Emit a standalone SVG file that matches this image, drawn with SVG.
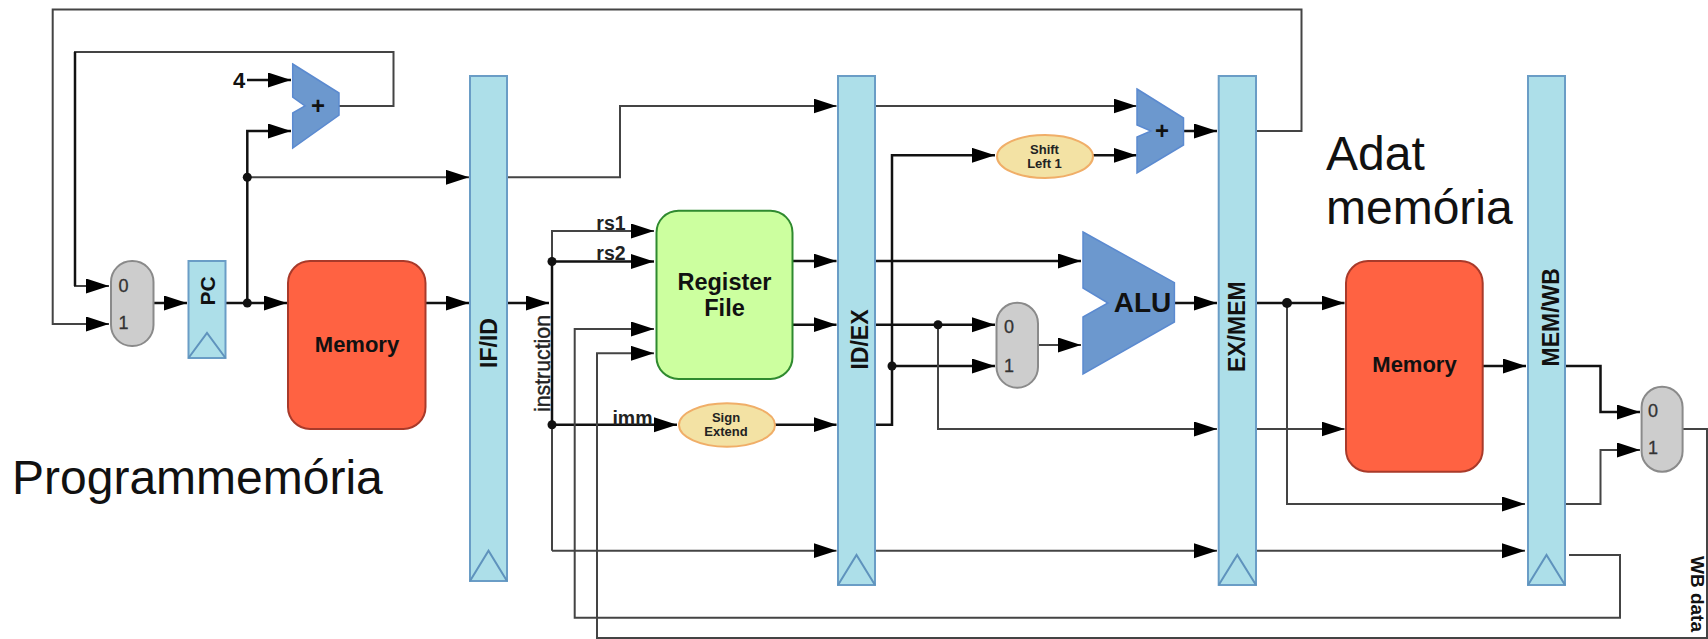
<svg xmlns="http://www.w3.org/2000/svg" width="1708" height="639" viewBox="0 0 1708 639">
<style>
text{font-family:"Liberation Sans",Arial,sans-serif;fill:#111}
.b{font-weight:bold}
.c{text-anchor:middle}
.bar{fill:#addfe9;stroke:#6a9dc6;stroke-width:2}
.clk{fill:none;stroke:#5f93bd;stroke-width:2}
.mux{fill:#cdcdcd;stroke:#8a8a8a;stroke-width:2}
.add{fill:#6c98ce;stroke:#5b8ad0;stroke-width:1.5}
.mem{fill:#ff6242;stroke:#a93a2a;stroke-width:2}
.ell{fill:#f3e2a4;stroke:#f0ae68;stroke-width:2}
.reg{font-size:23px;font-weight:bold}
.big{font-size:48px}
.sm{font-size:13px;font-weight:bold;fill:#222}
.sig{font-size:19.500px;font-weight:bold;fill:#222}
.d{font-size:18px;fill:#333;stroke:#333;stroke-width:.3}
#connectors path{fill:none;stroke:#111;stroke-width:2.500}
#connectors path.t{stroke:#444;stroke-width:2}
#connectors path.a{marker-end:url(#arrow)}
#connectors circle{fill:#111}
</style>
<defs>
<marker id="arrow" markerUnits="userSpaceOnUse" markerWidth="24" markerHeight="16" refX="23" refY="7.500" orient="auto"><path d="M0,0L23,7.500L0,15z" fill="#000"/></marker>
</defs>
<rect width="1708" height="639" fill="#fff"/>
<g id="connectors">
<path class="t a" d="M1256,131H1301.500V9.500H52.700V324H109"/>
<path class="t a" d="M339,106H393.500V52H75V286H109"/>
<path d="M75,52V286"/>
<path class="a" d="M247,80H291"/>
<path class="a" d="M247.300,303V131H291"/>
<path class="t a" d="M247.300,177.300H469"/>
<path class="a" d="M153.500,303H187"/>
<path class="a" d="M225.500,303H287"/>
<path class="a" d="M425.500,303H469"/>
<path class="a" d="M507,303H549"/>
<path class="t a" d="M507,177.300H620V106H836.500"/>
<path class="t a" d="M552,261.500V231H654"/>
<path class="a" d="M552,261.500H654"/>
<path d="M552,261.500V424.700"/>
<path class="t" d="M552,424.700V550.700"/>
<path class="a" d="M552,424.700H677"/>
<path class="t a" d="M552,550.700H836.500"/>
<path class="a" d="M792.500,261H836.500"/>
<path class="a" d="M792.500,324.700H836.500"/>
<path class="a" d="M775,424.700H836.500"/>
<path class="t a" d="M875,106H1136.500"/>
<path class="a" d="M875,261H1081"/>
<path class="a" d="M875,324.700H995"/>
<path class="a" d="M875,424.700H892V155.300H995"/>
<path class="a" d="M892,366H995"/>
<path class="t a" d="M938,324.700V429H1217"/>
<path class="t a" d="M875,550.700H1217"/>
<path class="a" d="M1093,155.300H1136.500"/>
<path class="t a" d="M1038,345H1081"/>
<path class="a" d="M1183.500,131H1217"/>
<path class="a" d="M1174,303H1217"/>
<path class="a" d="M1256,303H1344.500"/>
<path class="t a" d="M1287,303V504H1525"/>
<path class="t a" d="M1256,429H1344.500"/>
<path class="t a" d="M1256,550.700H1525"/>
<path class="a" d="M1482.700,366H1526"/>
<path class="a" d="M1565,366H1600.500V412H1640"/>
<path class="t a" d="M1565,504H1600.500V450H1640"/>
<path class="t a" d="M1569,555H1620V617.700H574.700V329H654"/>
<path class="t a" d="M1682.700,429H1707V638H597V353.300H654"/>
<circle cx="247.300" cy="177.300" r="4.500"/>
<circle cx="247.300" cy="303" r="4.500"/>
<circle cx="552" cy="261.500" r="4.500"/>
<circle cx="552" cy="424.700" r="4.500"/>
<circle cx="938" cy="324.700" r="4.500"/>
<circle cx="892" cy="366" r="4.500"/>
<circle cx="1287" cy="303" r="5"/>
</g>
<g id="mux-pc"><rect class="mux" x="111" y="261" width="42.500" height="85" rx="21" ry="21"/><text class="d c" x="123.500" y="291.500">0</text><text class="d c" x="123.500" y="329">1</text></g>
<g id="pc"><rect class="bar" x="188.500" y="261" width="37" height="97"/><path class="clk" d="M188.500,358L207,333L225.500,358"/><text class="b c" font-size="21" transform="translate(214.500,291) rotate(-90)">PC</text></g>
<g id="adder-pc"><path class="add" d="M292.700,64L339,93V115L292.700,148V113L305,106L292.700,97z"/><text class="b c" font-size="24" x="318" y="114">+</text></g>
<text id="const-4" class="b c" font-size="22" x="239" y="87.500">4</text>
<g id="imem"><rect class="mem" x="288" y="261" width="137.500" height="168" rx="22" ry="22"/><text class="b c" font-size="22" x="357" y="352">Memory</text></g>
<g id="if-id"><rect class="bar" x="470" y="76" width="37" height="505"/><path class="clk" d="M470,581L488.500,550.700L507,581"/><text class="reg c" transform="translate(496.500,343) rotate(-90)">IF/ID</text></g>
<text id="instruction" class="c" font-size="21.300" style="fill:#222;stroke:#222;stroke-width:.4" transform="translate(550,363.500) rotate(-90)">instruction</text>
<text id="rs1" class="sig c" x="611" y="230">rs1</text>
<text id="rs2" class="sig c" x="611" y="260">rs2</text>
<text id="imm" class="sig c" x="632.500" y="425">imm</text>
<g id="regfile"><rect x="656.500" y="210.700" width="136" height="168.300" rx="22" ry="22" fill="#ccff9f" stroke="#2f8a2f" stroke-width="2"/><text class="b c" font-size="23.500" x="724.500" y="290">Register</text><text class="b c" font-size="23.500" x="724.500" y="316">File</text></g>
<g id="sign-extend"><ellipse class="ell" cx="727" cy="425" rx="48" ry="21.700"/><text class="sm c" x="726" y="421.700">Sign</text><text class="sm c" x="726" y="435.500">Extend</text></g>
<g id="id-ex"><rect class="bar" x="838" y="76" width="37" height="509"/><path class="clk" d="M838,585L856.500,555L875,585"/><text class="reg c" transform="translate(867.500,339.500) rotate(-90)">ID/EX</text></g>
<g id="shift-left"><ellipse class="ell" cx="1045" cy="156.500" rx="48" ry="21.500"/><text class="sm c" x="1044.500" y="154">Shift</text><text class="sm c" x="1044.500" y="167.500">Left 1</text></g>
<g id="adder-branch"><path class="add" d="M1137,89L1183.500,118V145L1137,173V137L1151,131L1137,125z"/><text class="b c" font-size="24" x="1162" y="139">+</text></g>
<g id="mux-alu"><rect class="mux" x="996.500" y="302.700" width="41.500" height="85" rx="20.700" ry="20.700"/><text class="d c" x="1009" y="332.700">0</text><text class="d c" x="1009" y="372">1</text></g>
<g id="alu"><path class="add" d="M1083,232L1174.400,282.700V322L1083,374V317L1108,303L1083,288z"/><text class="b c" font-size="28" fill="#0d1a33" x="1142.500" y="312">ALU</text></g>
<g id="ex-mem"><rect class="bar" x="1218.700" y="76" width="37.300" height="509"/><path class="clk" d="M1218.700,585L1237.300,555L1256,585"/><text class="reg c" transform="translate(1245,326.700) rotate(-90)">EX/MEM</text></g>
<g id="dmem"><rect class="mem" x="1346" y="261" width="136.700" height="210.700" rx="22" ry="22"/><text class="b c" font-size="22" x="1414.500" y="371.700">Memory</text></g>
<g id="mem-wb"><rect class="bar" x="1528" y="76" width="37" height="509"/><path class="clk" d="M1528,585L1546.500,555L1565,585"/><text class="reg c" transform="translate(1558.700,317.300) rotate(-90)">MEM/WB</text></g>
<g id="mux-wb"><rect class="mux" x="1641.600" y="386.700" width="41" height="85" rx="20.500" ry="20.500"/><text class="d c" x="1653" y="416.700">0</text><text class="d c" x="1653" y="454">1</text></g>
<text id="wb-data" class="b c" font-size="19" fill="#222" transform="translate(1691,594) rotate(90)">WB data</text>
<text id="label-prog" class="big" x="12" y="494">Programmemória</text>
<text id="label-adat" class="big" x="1326" y="170">Adat</text>
<text id="label-mem" class="big" x="1326" y="224">memória</text>
</svg>
